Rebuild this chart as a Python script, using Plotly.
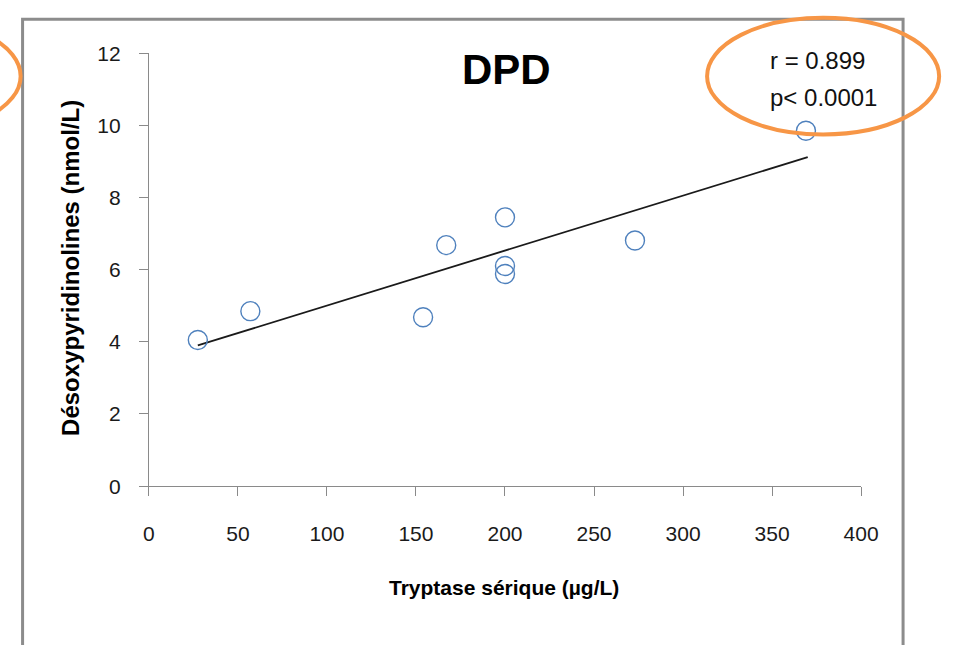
import plotly.graph_objects as go

# Data
tryptase = [27.5, 57, 154, 167, 200, 200, 200, 273, 369]
dpd = [4.05, 4.85, 4.68, 6.68, 7.45, 6.10, 5.88, 6.81, 9.85]
trend_x = [27.5, 370]
trend_y = [3.90, 9.12]
x_ticks = [0, 50, 100, 150, 200, 250, 300, 350, 400]
y_ticks = [0, 2, 4, 6, 8, 10, 12]

W, H = 963, 645
def px(x):
    return x / W
def py(y):
    return 1 - y / H

fig = go.Figure()
fig.add_trace(go.Scatter(
    x=trend_x, y=trend_y, mode="lines",
    line=dict(color="#1a1a1a", width=1.8), hoverinfo="skip", showlegend=False))
fig.add_trace(go.Scatter(
    x=tryptase, y=dpd, mode="markers",
    marker=dict(symbol="circle-open", size=19, color="#4f81bd", line=dict(width=1.4)),
    showlegend=False))

axis_common = dict(
    showgrid=False, zeroline=False, showline=True, linecolor="#8a8a8a", linewidth=1,
    ticks="outside", ticklen=9, tickcolor="#8a8a8a", tickwidth=1,
    tickfont=dict(family="Liberation Sans", size=21, color="#1a1a1a"),
)

fig.update_layout(
    width=W, height=H,
    margin=dict(l=0, r=0, t=0, b=0),
    paper_bgcolor="white", plot_bgcolor="white",
    xaxis=dict(domain=[px(146.5), px(877)], range=[0, 400], tickvals=x_ticks,
               ticklabelstandoff=20, **axis_common),
    yaxis=dict(domain=[py(491.7), py(42.7)], range=[0, 12], tickvals=y_ticks,
               ticklabelstandoff=14, **axis_common),
    annotations=[
        dict(text="<b>DPD</b>", x=px(513.5), y=py(60), xref="paper", yref="paper",
             xanchor="center", yanchor="middle", showarrow=False,
             font=dict(family="Liberation Sans", size=42, color="black")),
        dict(text="r = 0.899", x=px(781), y=py(50), xref="paper", yref="paper",
             xanchor="left", yanchor="middle", showarrow=False,
             font=dict(family="Liberation Sans", size=24, color="#111")),
        dict(text="p< 0.0001", x=px(781), y=py(89), xref="paper", yref="paper",
             xanchor="left", yanchor="middle", showarrow=False,
             font=dict(family="Liberation Sans", size=24, color="#111")),
        dict(text="<b>Tryptase sérique (µg/L)</b>", x=px(511), y=py(597), xref="paper", yref="paper",
             xanchor="center", yanchor="middle", showarrow=False,
             font=dict(family="Liberation Sans", size=21, color="black")),
        dict(text="<b>Désoxypyridinolines (nmol/L)</b>", x=px(66), y=py(265), xref="paper", yref="paper",
             xanchor="center", yanchor="middle", showarrow=False, textangle=-90,
             font=dict(family="Liberation Sans", size=24, color="black")),
    ],
    shapes=[
        dict(type="rect", xref="paper", yref="paper", x0=px(17), x1=px(920), y0=py(660), y1=py(7.5),
             line=dict(color="#8c8c8c", width=3), layer="above"),
        dict(type="circle", xref="paper", yref="paper", x0=px(719), x1=px(957), y0=py(127), y1=py(6),
             line=dict(color="#f79646", width=4), layer="above"),
        dict(type="circle", xref="paper", yref="paper", x0=px(-223), x1=px(15), y0=py(127), y1=py(6),
             line=dict(color="#f79646", width=4), layer="above"),
    ],
)

fig.write_html("out.html")
